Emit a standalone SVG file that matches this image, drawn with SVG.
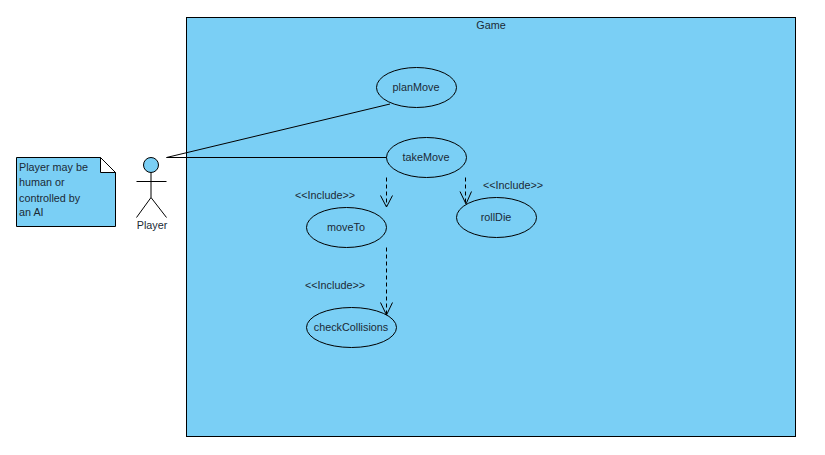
<svg xmlns="http://www.w3.org/2000/svg" width="825" height="455" viewBox="0 0 825 455">
<style>
text{font-family:"Liberation Sans",Arial,sans-serif;font-size:10.8px;fill:#1a2a35}
.m{text-anchor:middle}
.s{fill:#7acff5;stroke:#000;stroke-width:1}
.l{fill:none;stroke:#000;stroke-width:1}
.d{fill:none;stroke:#000;stroke-width:1;stroke-dasharray:4 3}
</style>
<rect width="825" height="455" fill="#fff"/>
<g id="game"><rect class="s" x="186.500" y="17.500" width="609" height="419"/><text class="m" x="491" y="29">Game</text></g>
<g id="connectors">
<path class="l" d="M166.500 157.500L390 104M166.500 157.500H387"/>
<path class="d" d="M386.500 177.500V206"/><path class="l" d="M380.500 195.500L386.500 207L392.500 195.500"/>
<path class="d" d="M465.500 177.500V203"/><path class="l" d="M460 191.500L466 204L471.500 191.500"/>
<path class="d" d="M386.500 247.500V315"/><path class="l" d="M380.500 302.500L386.500 315L392.500 302.500"/>
</g>
<g id="planMove"><ellipse class="s" cx="416.500" cy="87.500" rx="40" ry="20"/><text class="m" x="416" y="91">planMove</text></g>
<g id="takeMove"><ellipse class="s" cx="426.500" cy="157.500" rx="40" ry="20"/><text class="m" x="426" y="161">takeMove</text></g>
<g id="moveTo"><ellipse class="s" cx="346.500" cy="227.500" rx="40" ry="20"/><text class="m" x="346" y="231">moveTo</text></g>
<g id="rollDie"><ellipse class="s" cx="496.500" cy="217.500" rx="40" ry="20"/><text class="m" x="496" y="221">rollDie</text></g>
<g id="checkCollisions"><ellipse class="s" cx="351.500" cy="327.500" rx="45" ry="20"/><text class="m" x="351" y="331">checkCollisions</text></g>
<g id="include-labels">
<text x="295" y="199">&lt;&lt;Include&gt;&gt;</text>
<text x="483" y="189">&lt;&lt;Include&gt;&gt;</text>
<text x="305" y="289">&lt;&lt;Include&gt;&gt;</text>
</g>
<g id="player">
<circle class="s" cx="151" cy="165" r="7.500"/>
<path class="l" d="M151 172.500V197.500M136.500 181.500H166.500M151 197.500L136.500 217.500M151 197.500L166.500 217.500"/>
<text class="m" x="152" y="229">Player</text>
</g>
<g id="note">
<path class="s" d="M16.500 157.500H100.500L115.500 172.500V226.500H16.500Z"/>
<path fill="#fff" stroke="#000" d="M100.500 157.500L115.500 172.500H100.500Z"/>
<text x="19" y="171">Player may be</text>
<text x="19" y="186">human or</text>
<text x="19" y="202">controlled by</text>
<text x="19" y="216">an AI</text>
</g>
</svg>
